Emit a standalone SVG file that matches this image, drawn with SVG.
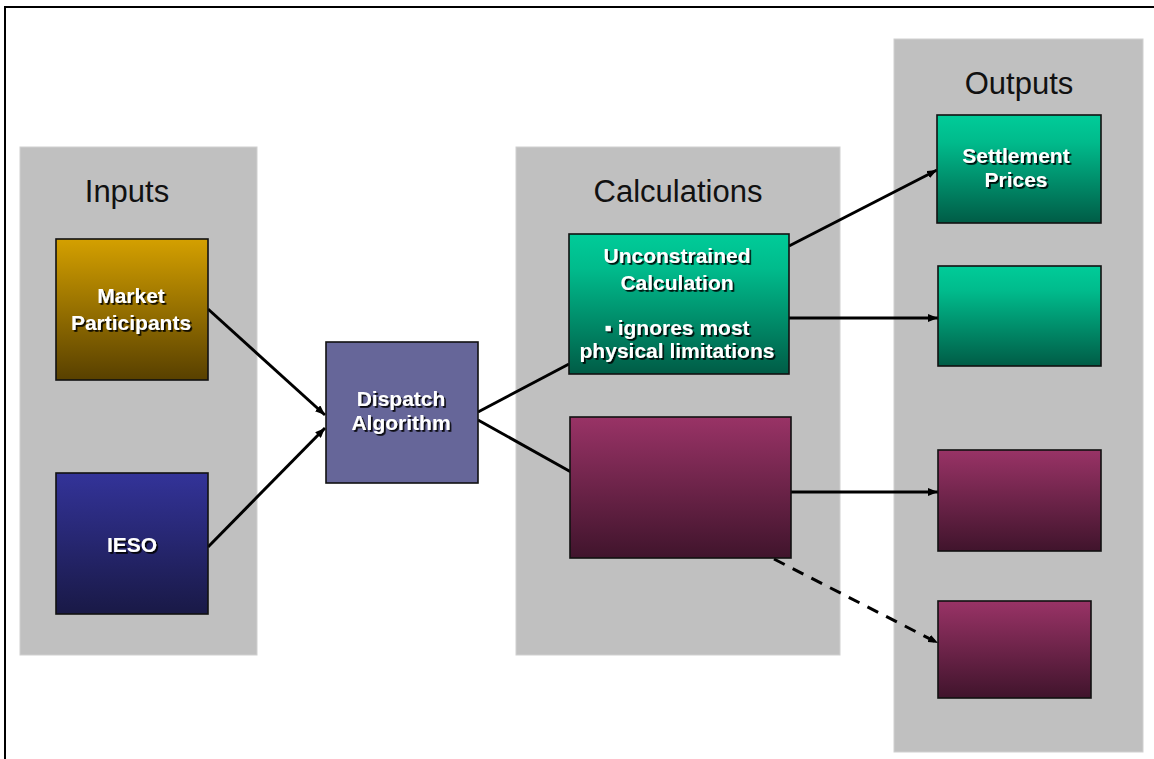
<svg xmlns="http://www.w3.org/2000/svg" width="1154" height="759" viewBox="0 0 1154 759">
<defs>
<linearGradient id="gGold" x1="0" y1="0" x2="0" y2="1"><stop offset="0" stop-color="#D4A000"/><stop offset="1" stop-color="#584000"/></linearGradient>
<linearGradient id="gBlue" x1="0" y1="0" x2="0" y2="1"><stop offset="0" stop-color="#333399"/><stop offset="1" stop-color="#191946"/></linearGradient>
<linearGradient id="gGreen" x1="0" y1="0" x2="0" y2="1"><stop offset="0" stop-color="#00CC99"/><stop offset="0.25" stop-color="#00BB8C"/><stop offset="1" stop-color="#005C46"/></linearGradient>
<linearGradient id="gMag" x1="0" y1="0" x2="0" y2="1"><stop offset="0" stop-color="#993366"/><stop offset="1" stop-color="#40142C"/></linearGradient>
<filter id="sh" x="-10%" y="-30%" width="130%" height="170%"><feDropShadow dx="1.8" dy="1.8" stdDeviation="0.4" flood-color="#000" flood-opacity="0.9"/></filter>
<marker id="ah" viewBox="0 0 10 8" refX="10" refY="4" markerWidth="10" markerHeight="8" markerUnits="userSpaceOnUse" orient="auto"><path d="M0,0 L10,4 L0,8 Z" fill="#000"/></marker>
<style>
.panel{fill:#C0C0C0;stroke:#D0D0D0;stroke-width:1}
.title{font-family:"Liberation Sans",Arial,sans-serif;font-size:31px;fill:#111;text-anchor:middle}
.node{stroke:#111;stroke-width:1.6}
.lbl{font-family:"Liberation Sans",Arial,sans-serif;font-size:21px;font-weight:bold;fill:#fff;text-anchor:middle;filter:url(#sh)}
.conn{stroke:#000;stroke-width:3;fill:none}
.dash{stroke-dasharray:12 9}
</style>
</defs>
<rect x="5" y="7" width="1170" height="800" fill="#fff" stroke="#000" stroke-width="2"/>
<g id="panels">
<rect class="panel" x="20" y="147" width="237" height="508"/>
<text class="title" x="127" y="202">Inputs</text>
<rect class="panel" x="516" y="147" width="324" height="508"/>
<text class="title" x="678" y="202">Calculations</text>
<rect class="panel" x="894" y="39" width="249" height="713"/>
<text class="title" x="1019" y="94">Outputs</text>
</g>
<g id="connectors">
<line class="conn" x1="208" y1="309" x2="325" y2="415" marker-end="url(#ah)"/>
<line class="conn" x1="208" y1="547" x2="325" y2="428" marker-end="url(#ah)"/>
<line class="conn" x1="478" y1="412" x2="569" y2="364"/>
<line class="conn" x1="478" y1="420" x2="571" y2="472"/>
<line class="conn" x1="789" y1="246" x2="937" y2="170" marker-end="url(#ah)"/>
<line class="conn" x1="789" y1="318" x2="938" y2="318" marker-end="url(#ah)"/>
<line class="conn" x1="791" y1="492" x2="938" y2="492" marker-end="url(#ah)"/>
<line class="conn dash" x1="774" y1="559" x2="938" y2="643" marker-end="url(#ah)"/>
</g>
<g id="market-participants">
<rect class="node" x="56" y="239" width="152" height="141" fill="url(#gGold)"/>
<text class="lbl" x="131" y="303">Market</text>
<text class="lbl" x="131" y="330">Participants</text>
</g>
<g id="ieso">
<rect class="node" x="56" y="473" width="152" height="141" fill="url(#gBlue)"/>
<text class="lbl" x="132" y="552">IESO</text>
</g>
<g id="dispatch-algorithm">
<rect class="node" x="326" y="342" width="152" height="141" fill="#666699"/>
<text class="lbl" x="401" y="406">Dispatch</text>
<text class="lbl" x="401" y="430">Algorithm</text>
</g>
<g id="unconstrained-calculation">
<rect class="node" x="569" y="234" width="220" height="140" fill="url(#gGreen)"/>
<text class="lbl" x="677" y="263">Unconstrained</text>
<text class="lbl" x="677" y="290">Calculation</text>
<text class="lbl" x="677" y="335">▪ ignores most</text>
<text class="lbl" x="677" y="358">physical limitations</text>
</g>
<g id="constrained-calculation">
<rect class="node" x="570" y="417" width="221" height="141" fill="url(#gMag)"/>
</g>
<g id="settlement-prices">
<rect class="node" x="937" y="115" width="164" height="108" fill="url(#gGreen)"/>
<text class="lbl" x="1016" y="163">Settlement</text>
<text class="lbl" x="1016" y="187">Prices</text>
</g>
<g id="output-green-2">
<rect class="node" x="938" y="266" width="163" height="100" fill="url(#gGreen)"/>
</g>
<g id="output-magenta-1">
<rect class="node" x="938" y="450" width="163" height="101" fill="url(#gMag)"/>
</g>
<g id="output-magenta-2">
<rect class="node" x="938" y="601" width="153" height="97" fill="url(#gMag)"/>
</g>
</svg>
